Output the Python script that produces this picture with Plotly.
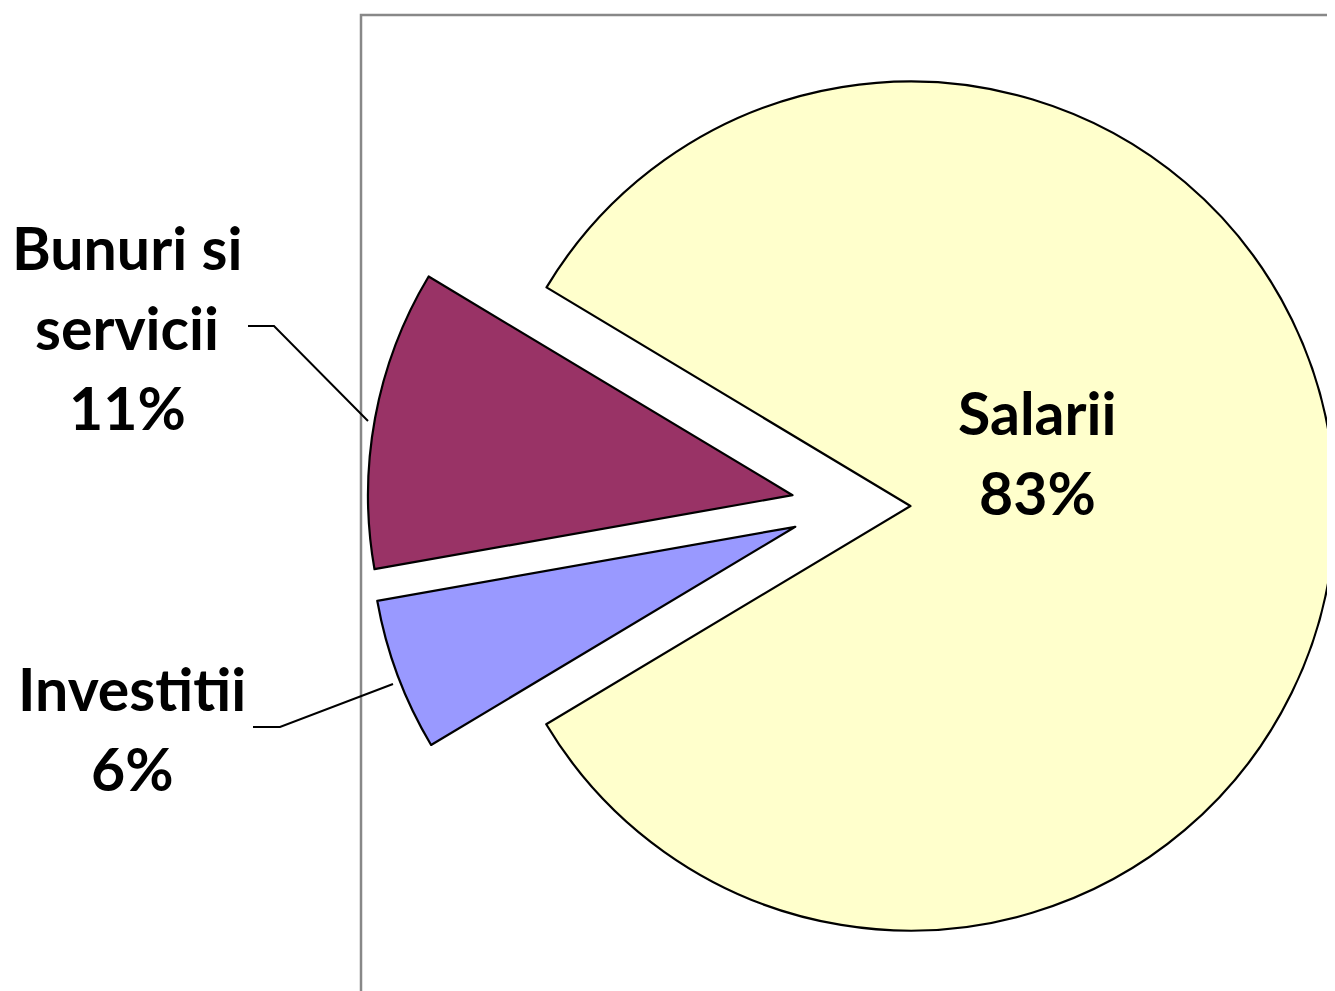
import plotly.graph_objects as go

# ---- data ----
labels = ["Salarii", "Investitii", "Bunuri si servicii"]
values = [82.8, 5.8, 11.4]
colors = ["#FFFFCC", "#9999FF", "#993366"]
label_lines = {
    "Salarii": ["Salarii"],
    "Investitii": ["Investitii"],
    "Bunuri si servicii": ["Bunuri si", "servicii"],
}

# the page body has an 8px default margin; the figure is sized to fill the rest
OFF = 8
W, H = 1335 - OFF, 991 - OFF


def px(x):
    return (x - OFF) / W


def py(y):
    return 1 - (y - OFF) / H


# pie placement (window pixels)
cx, cy = 851, 506
half = 484
total = sum(values)

fig = go.Figure()
fig.add_trace(go.Pie(
    labels=labels,
    values=values,
    sort=False,
    direction="clockwise",
    rotation=-59,
    pull=[0.14, 0.14, 0.14],
    marker=dict(colors=colors, line=dict(color="black", width=2.2)),
    textinfo="none",
    hoverinfo="label+percent",
    showlegend=False,
    domain=dict(x=[max(0.0, px(cx - half)), min(1.0, px(cx + half))],
                y=[max(0.0, py(cy + half)), min(1.0, py(cy - half))]),
))

# label text positions (window-pixel centres of each line)
label_pos = {
    "Salarii": (1037, [412, 492]),
    "Bunuri si servicii": (127, [247, 327, 407]),
    "Investitii": (132, [688, 768]),
}

annotations = []
for lab, val in zip(labels, values):
    lines = label_lines[lab] + [f"{round(val / total * 100)}%"]
    x, ys = label_pos[lab]
    for line, y in zip(lines, ys):
        annotations.append(dict(
            x=px(x), y=py(y), xref="paper", yref="paper",
            text=f"<b>{line}</b>", showarrow=False,
            xanchor="center", yanchor="middle",
            font=dict(family="Lato", size=59, color="black"),
        ))


def path(points):
    s = ""
    for i, (x, y) in enumerate(points):
        s += ("M" if i == 0 else "L") + f"{px(x)},{py(y)} "
    return s.strip()


shapes = [
    # plot-area border (top & left edges)
    dict(type="path", xref="paper", yref="paper", layer="below",
         path=path([(361, 1000), (361, 15), (1345, 15)]),
         line=dict(color="#888888", width=2.5)),
    # leader lines
    dict(type="path", xref="paper", yref="paper",
         path=path([(248, 326), (274, 326), (368, 421)]),
         line=dict(color="black", width=2)),
    dict(type="path", xref="paper", yref="paper",
         path=path([(253, 727), (280, 727), (393, 684)]),
         line=dict(color="black", width=2)),
]

fig.update_layout(
    width=W, height=H,
    margin=dict(l=0, r=0, t=0, b=0),
    paper_bgcolor="white",
    plot_bgcolor="white",
    annotations=annotations,
    shapes=shapes,
)

fig.write_html("out.html")
